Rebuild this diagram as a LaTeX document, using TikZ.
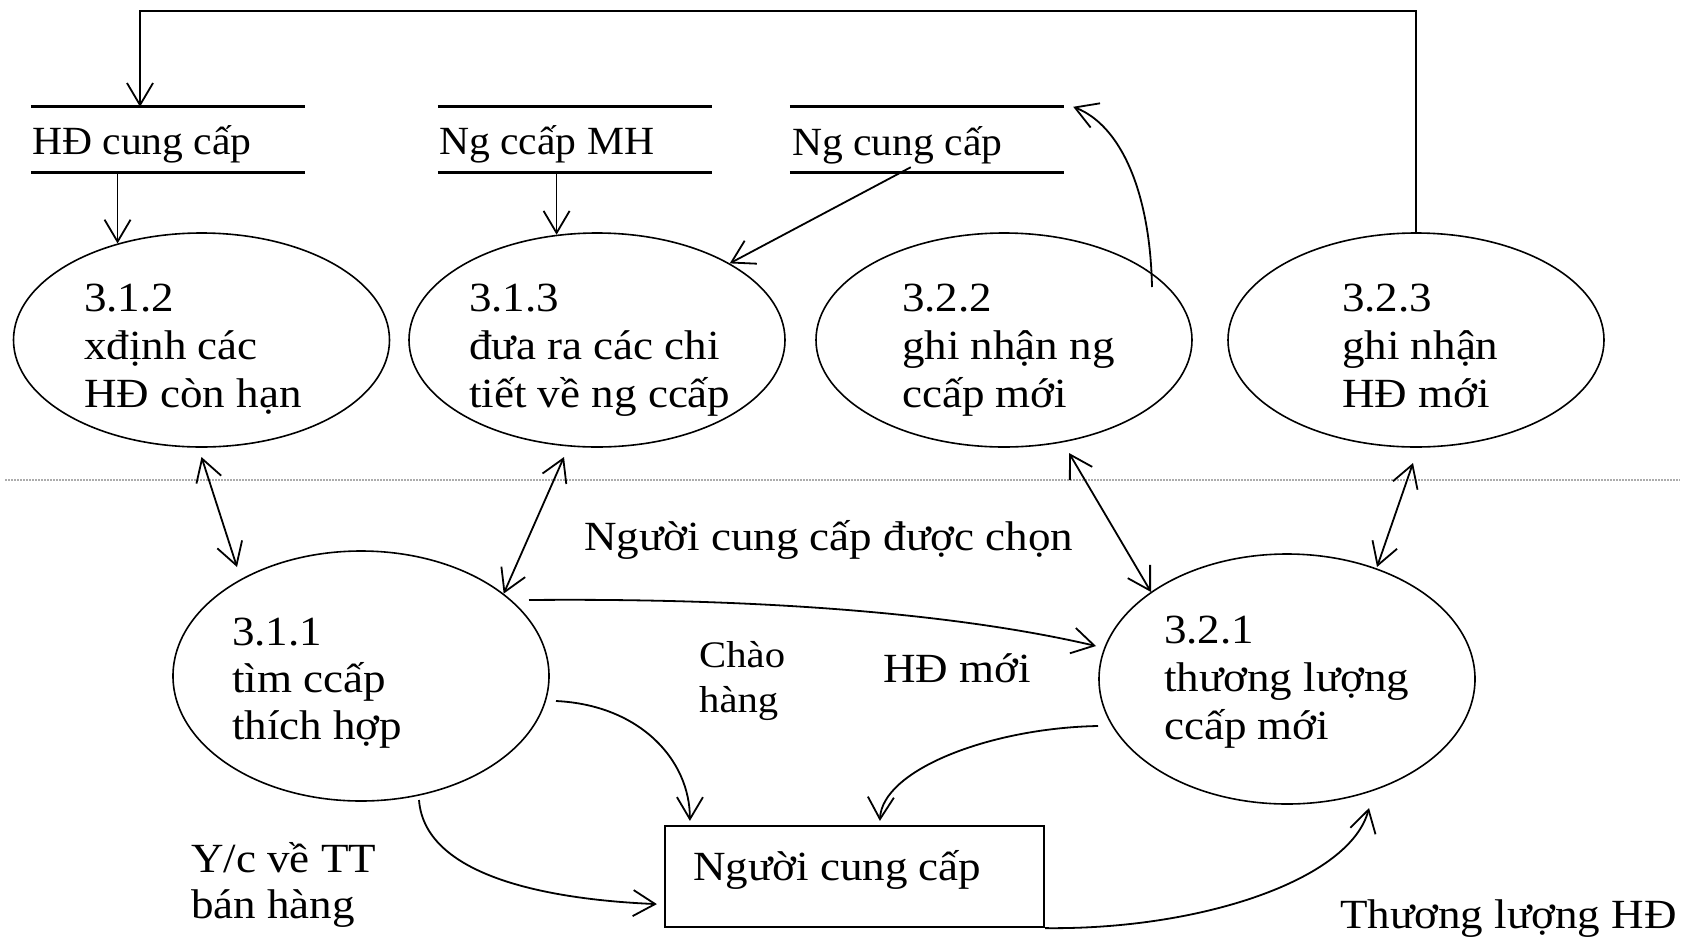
\documentclass[tikz,border=0pt]{standalone}
\usepackage{fontspec}
\setmainfont{Liberation Serif}[FakeStretch=1.085]
\newfontfamily\storefont{Liberation Serif}[FakeStretch=1.04]
\usetikzlibrary{shapes.geometric,arrows.meta,calc}

% several left-aligned lines, baseline on the first line
\newcommand{\tstack}[2][48pt]{\vtop{\baselineskip=#1\relax\lineskiplimit=-1000pt\relax\lineskip=0pt\relax\halign{##\hfil\cr#2\crcr}}}

\begin{document}
\begin{tikzpicture}[x=1pt,y=-1pt,
  proc/.style={draw, ellipse, line width=1.6pt, inner sep=0pt,
               minimum width=376pt, minimum height=214pt},
  ptext/.style={anchor=base west, inner sep=0pt, font=\fontsize{41.5}{48}\selectfont},
  store/.style={inner sep=0pt, minimum width=274pt, minimum height=65pt},
  storeline/.style={line width=2.8pt},
  stext/.style={anchor=base west, inner sep=0pt, font=\storefont\fontsize{40}{46}\selectfont},
  box/.style={draw, rectangle, line width=2.2pt, inner sep=0pt,
              minimum width=379pt, minimum height=101pt},
  lbl/.style={anchor=base west, inner sep=0pt, font=\fontsize{41.5}{48}\selectfont},
  small/.style={font=\fontsize{37.5}{45}\selectfont},
  barb/.tip={Straight Barb[length=22pt,width=26pt]},
  flow/.style={line width=1.8pt, -barb},
  biflow/.style={line width=1.8pt, barb-barb},
  divider/.style={draw=gray!65, line width=2pt, dash pattern=on 1.5pt off 1.5pt},
]
\useasboundingbox (0,0) rectangle (1687,938);

% processes
\node[proc] (p312) at (201.5,340) {};
\node[proc] (p313) at (597,340) {};
\node[proc] (p322) at (1004,340) {};
\node[proc] (p323) at (1416,340) {};
\node[proc, minimum height=250pt] (p311) at (361,676) {};
\node[proc, minimum height=250pt] (p321) at (1287,679) {};

\node[ptext] (t312) at (84,311)   {\tstack{3.1.2\cr xđịnh các\cr HĐ còn hạn}};
\node[ptext] (t313) at (469,311)  {\tstack{3.1.3\cr đưa ra các chi\cr tiết về ng ccấp}};
\node[ptext] (t322) at (902,311)  {\tstack{3.2.2\cr ghi nhận ng\cr ccấp mới}};
\node[ptext] (t323) at (1342,311) {\tstack{3.2.3\cr ghi nhận\cr HĐ mới}};
\node[ptext] (t311) at (232,645)  {\tstack[47pt]{3.1.1\cr tìm ccấp\cr thích hợp}};
\node[ptext] (t321) at (1164,643) {\tstack[48pt]{3.2.1\cr thương lượng\cr ccấp mới}};

% data stores
\node[store] (s1) at (168,139.5) {};
\node[store] (s2) at (575,139.5) {};
\node[store] (s3) at (927,139.5) {};
\foreach \s in {s1,s2,s3}
  \draw[storeline] (\s.north west) -- (\s.north east) (\s.south west) -- (\s.south east);
\node[stext] (s1t) at (32,154)  {HĐ cung cấp};
\node[stext] (s2t) at (439,154) {Ng ccấp MH};
\node[stext] (s3t) at (792,155) {Ng cung cấp};

% external entity
\node[box] (ncc) at (854.5,876.5) {};
\node[lbl] (ncct) at (693,880) {Người cung cấp};

% divider
\coordinate (dl) at (5,480);
\coordinate (dr) at (1680,480);
\draw[divider] (dl) -- (dr);

% flows between stores and processes
\coordinate (fbtop) at (140,11);
\draw[flow] (p323.north) |- (fbtop) -- (fbtop |- s1.north);
\draw[flow] (s1.south -| p312.131) -- (p312.131);
\draw[flow] (s2.south -| p313.111) -- (p313.111);
\draw[flow] ($(s3.south west)+(121,-5)$) -- (p313.30);
\draw[flow] ($(p322.center)+(148,-53)$) .. controls (1150,190) and (1120,125) .. ($(s3.north east)+(9,0)$);

% two-way flows across the divider
\draw[biflow] ($(p312.center)+(0,117)$) -- ($(p311.center)+(-124,-109)$);
\draw[biflow] ($(p313.center)+(-33,117)$) -- (p311.30);
\draw[biflow] ($(p322.center)+(65,113)$) -- ($(p321.center)+(-136,-87)$);
\draw[biflow] ($(p323.center)+(-3,123)$) -- ($(p321.center)+(90,-112)$);

% lower flows
\draw[flow] ($(p311.center)+(168,-76)$) .. controls (750,598) and (950,612) .. ($(p321.center)+(-191,-33)$);
\draw[flow] ($(p311.center)+(195,25)$) .. controls (640,705) and (690,760) .. ($(ncc.north west)+(26,-4)$);
\draw[flow] ($(p321.center)+(-189,47)$) .. controls (990,728) and (882,770) .. ($(ncc.north west)+(216,-4)$);
\draw[flow] ($(p311.center)+(58,124)$) .. controls (425,880) and (560,900) .. ($(ncc.south west)+(-7,-24)$);
\draw[flow] (ncc.south east) .. controls (1200,930) and (1350,880) .. ($(p321.center)+(82,129)$);

% flow labels
\node[lbl] (l1) at (584,550) {Người cung cấp được chọn};
\node[lbl, small] (l2) at (699,667) {\tstack[45pt]{Chào\cr hàng}};
\node[lbl] (l3) at (883,682) {HĐ mới};
\node[lbl] (l4) at (191,872) {\tstack[46pt]{Y/c về TT\cr bán hàng}};
\node[lbl] (l5) at (1340,928) {Thương lượng HĐ};
\end{tikzpicture}
\end{document}
